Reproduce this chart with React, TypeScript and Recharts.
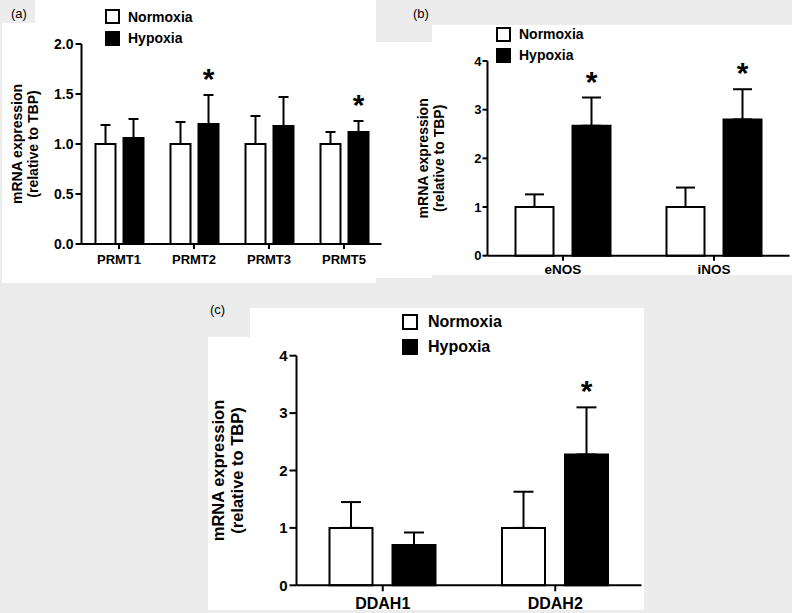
import React from 'react'
import { BarChart, Bar, XAxis, YAxis, ErrorBar, LabelList, Label } from 'recharts'

const SERIES = ['Normoxia', 'Hypoxia']
const FILLS = ['#ffffff', '#000000']
const FONT = '"Liberation Sans", Arial, sans-serif'

// (a) arginine methyltransferases
const genesA = ['PRMT1', 'PRMT2', 'PRMT3', 'PRMT5']
const normA = [1, 1, 1, 1]
const normErrA = [0.19, 0.22, 0.28, 0.12]
const hypA = [1.06, 1.2, 1.18, 1.12]
const hypErrA = [0.19, 0.29, 0.29, 0.11]
const starA = [false, true, false, true]
const ticksA = [0, 0.5, 1, 1.5, 2]

// (b) NOS
const genesB = ['eNOS', 'iNOS']
const normB = [1, 1]
const normErrB = [0.26, 0.4]
const hypB = [2.67, 2.8]
const hypErrB = [0.58, 0.62]
const starB = [true, true]
const ticksB = [0, 1, 2, 3, 4]

// (c) DDAH
const genesC = ['DDAH1', 'DDAH2']
const normC = [1, 1]
const normErrC = [0.45, 0.63]
const hypC = [0.7, 2.28]
const hypErrC = [0.22, 0.82]
const starC = [false, true]
const ticksC = [0, 1, 2, 3, 4]

const buildTable = (genes: string[], n: number[], nErr: number[], h: number[], hErr: number[]) =>
  genes.map((g, i) => ({
    gene: g,
    norm: n[i],
    normErr: [0, nErr[i]],
    hyp: h[i],
    hypErr: [0, hErr[i]],
  }))

const starLabel = (stars: boolean[], vals: number[], errs: number[]) => (props: any) => {
  const vb = props.viewBox ?? props
  const x = vb.x ?? props.x
  const y = vb.y ?? props.y
  const width = vb.width ?? props.width
  const height = vb.height ?? props.height
  const i = props.index
  if (!stars[i]) return null
  const top = y - height * (errs[i] / vals[i])
  return (
    <text x={x + width / 2} y={top - 6} textAnchor="middle" fontSize={30} fontWeight={700} fill="#000" fontFamily={FONT}>
      *
    </text>
  )
}

const yTitle = (xs: number[], size: number) => (props: any) => {
  const vb = props.viewBox
  const cy = vb.y + vb.height / 2
  const lines = ['mRNA expression', '(relative to TBP)']
  return (
    <g>
      {lines.map((t, i) => (
        <text
          key={t}
          x={xs[i]}
          y={cy}
          transform={`rotate(-90, ${xs[i]}, ${cy})`}
          textAnchor="middle"
          dominantBaseline="central"
          fontSize={size}
          fontWeight={700}
          fill="#000"
          fontFamily={FONT}
        >
          {t}
        </text>
      ))}
    </g>
  )
}

function Panel(p: any) {
  const data = buildTable(p.genes, p.norm, p.normErr, p.hyp, p.hypErr)
  return (
    <div style={{ position: 'absolute', left: p.left, top: p.top }}>
      <BarChart width={p.width} height={p.height} data={data} margin={p.margin} barSize={p.barSize} barGap={p.barGap}>
        <XAxis
          dataKey="gene"
          height={p.xHeight}
          axisLine={{ stroke: '#000', strokeWidth: 2 }}
          tickLine={{ stroke: '#000', strokeWidth: 2 }}
          tickSize={p.xTick[0]}
          tickMargin={p.xTick[1]}
          tick={{ fill: '#000', fontSize: p.xFont, fontWeight: 700, fontFamily: FONT }}
          padding={{ left: 0, right: 0 }}
        />
        <YAxis
          width={p.yWidth}
          domain={[0, p.ticks[p.ticks.length - 1]]}
          ticks={p.ticks}
          tickFormatter={p.fmt}
          axisLine={{ stroke: '#000', strokeWidth: 2 }}
          tickLine={{ stroke: '#000', strokeWidth: 2 }}
          tickSize={p.yTick[0]}
          tickMargin={p.yTick[1]}
          tick={{ fill: '#000', fontSize: p.yFont, fontWeight: 700, fontFamily: FONT }}
        >
          <Label content={yTitle(p.titleX, p.titleFont)} />
        </YAxis>
        <Bar dataKey="norm" name={SERIES[0]} fill={FILLS[0]} stroke="#000" strokeWidth={2} isAnimationActive={false}>
          <ErrorBar dataKey="normErr" width={p.cap} stroke="#000" strokeWidth={2} direction="y" isAnimationActive={false} />
        </Bar>
        <Bar dataKey="hyp" name={SERIES[1]} fill={FILLS[1]} stroke="#000" strokeWidth={2} isAnimationActive={false}>
          <ErrorBar dataKey="hypErr" width={p.cap} stroke="#000" strokeWidth={2} direction="y" isAnimationActive={false} />
          <LabelList dataKey="hyp" content={starLabel(p.stars, p.hyp, p.hypErr)} />
        </Bar>
      </BarChart>
    </div>
  )
}

function Key({ left, top, sq, rowH, gap, size }: any) {
  return (
    <div style={{ position: 'absolute', left, top, fontFamily: FONT, fontWeight: 700, fontSize: size, color: '#000' }}>
      {SERIES.map((s, i) => (
        <div key={s} style={{ display: 'flex', alignItems: 'center', height: rowH }}>
          <span
            style={{
              width: sq,
              height: sq,
              boxSizing: 'border-box',
              border: '2px solid #000',
              background: FILLS[i],
              marginRight: gap,
              display: 'inline-block',
            }}
          />
          <span>{s}</span>
        </div>
      ))}
    </div>
  )
}

const white = (left: number, top: number, width: number, height: number) => (
  <div style={{ position: 'absolute', left, top, width, height, background: '#fff' }} />
)

const tag = (t: string, left: number, top: number) => (
  <div style={{ position: 'absolute', left, top, fontFamily: FONT, fontSize: 13, lineHeight: 1, color: '#000' }}>{t}</div>
)

export default function App() {
  return (
    <div style={{ position: 'absolute', left: 0, top: 0, width: 792, height: 613, background: '#ececec', overflow: 'hidden' }}>
      {white(35, 0, 341, 23)}
      {white(2, 23, 374, 260)}
      {white(376, 42, 56, 236)}
      {white(432, 25, 360, 250)}
      {white(400, 42, 32, 233)}
      {white(250, 308, 394, 302)}
      {white(208, 337, 42, 273)}
      {tag('(a)', 11, 7)}
      {tag('(b)', 413, 7)}
      {tag('(c)', 210, 303)}

      <Panel
        left={0} top={0} width={400} height={283}
        margin={{ top: 44, right: 18.5, left: 0, bottom: 0 }}
        yWidth={81.5} xHeight={39}
        genes={genesA} norm={normA} normErr={normErrA} hyp={hypA} hypErr={hypErrA} stars={starA}
        ticks={ticksA} fmt={(v: number) => v.toFixed(1)}
        xTick={[5, 6]} yTick={[6, 2]} xFont={13} yFont={14}
        titleX={[17, 33]} titleFont={14}
        barSize={20} barGap={8} cap={5}
      />
      <Key left={105} top={6} sq={15} rowH={21.5} gap={8} size={14} />

      <Panel
        left={400} top={0} width={392} height={283}
        margin={{ top: 61, right: 2.5, left: 0, bottom: 0 }}
        yWidth={87.5} xHeight={27.3}
        genes={genesB} norm={normB} normErr={normErrB} hyp={hypB} hypErr={hypErrB} stars={starB}
        ticks={ticksB} fmt={(v: number) => String(v)}
        xTick={[5, 4]} yTick={[5, 1]} xFont={13.5} yFont={13}
        titleX={[23, 39]} titleFont={14}
        barSize={38} barGap={19} cap={9.5}
      />
      <Key left={496} top={23.5} sq={15} rowH={21} gap={8} size={14} />

      <Panel
        left={190} top={290} width={460} height={323}
        margin={{ top: 65.7, right: 8.5, left: 0, bottom: 0 }}
        yWidth={106.5} xHeight={27.7}
        genes={genesC} norm={normC} normErr={normErrC} hyp={hypC} hypErr={hypErrC} stars={starC}
        ticks={ticksC} fmt={(v: number) => String(v)}
        xTick={[6, 6]} yTick={[7, 2]} xFont={16} yFont={15}
        titleX={[28, 46.7]} titleFont={16.5}
        barSize={43} barGap={20} cap={10}
      />
      <Key left={402} top={310} sq={16} rowH={24.4} gap={10} size={16} />
    </div>
  )
}
